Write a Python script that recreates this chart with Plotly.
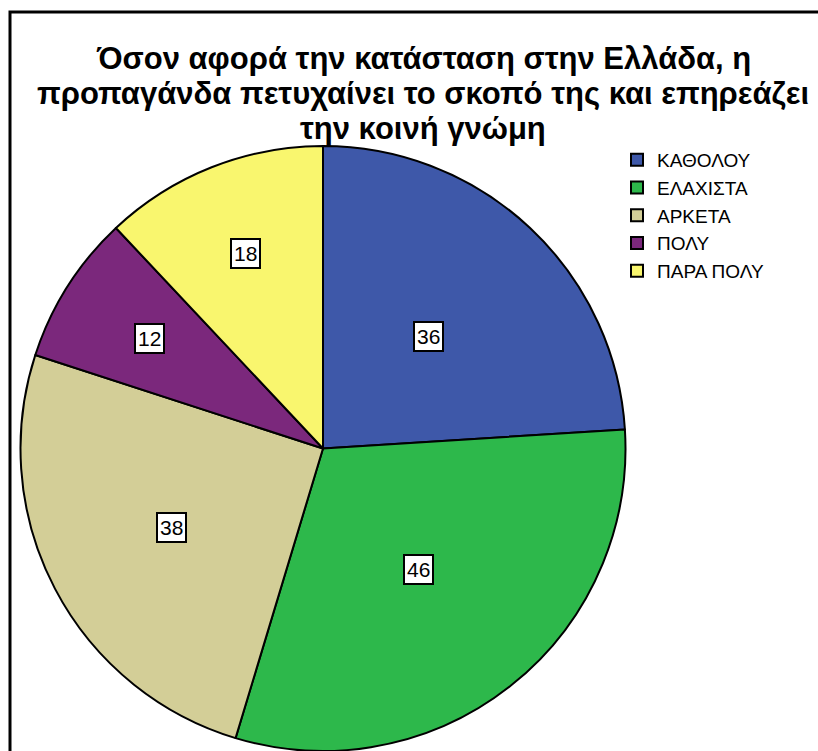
import math
import plotly.graph_objects as go

categories = ["ΚΑΘΟΛΟΥ", "ΕΛΑΧΙΣΤΑ", "ΑΡΚΕΤΑ", "ΠΟΛΥ", "ΠΑΡΑ ΠΟΛΥ"]
counts = [36, 46, 38, 12, 18]
colors = ["#3E58A9", "#2DB84B", "#D3CE97", "#7B287C", "#F9F66E"]
title_lines = [
    "Όσον αφορά την κατάσταση στην Ελλάδα, η",
    "προπαγάνδα πετυχαίνει το σκοπό της και επηρεάζει",
    "την κοινή γνώμη",
]
# radial placement of the value boxes (fraction of radius)
label_radius = [0.51, 0.51, 0.565, 0.68, 0.694]

W, H = 818, 751
cx, cy, R = 323, 448.5, 302.5  # pixel centre/radius of the pie

fig = go.Figure()
fig.add_trace(go.Pie(
    labels=categories,
    values=counts,
    sort=False,
    direction="clockwise",
    rotation=0,
    marker=dict(colors=colors, line=dict(color="black", width=2)),
    textinfo="none",
    hoverinfo="label+value",
    domain=dict(x=[(cx - R) / W, (cx + R) / W], y=[0, (H - cy + R) / H]),
))

total = sum(counts)
cum = 0
annotations = []
for v, rf in zip(counts, label_radius):
    mid = (cum + v / 2) / total * 2 * math.pi
    cum += v
    px = cx + rf * R * math.sin(mid)
    py = cy - rf * R * math.cos(mid)
    annotations.append(dict(
        x=px / W, y=1 - py / H, xref="paper", yref="paper",
        text=str(v), showarrow=False,
        font=dict(family="Liberation Sans, Arial", size=21, color="black"),
        bgcolor="white", bordercolor="black", borderwidth=2, borderpad=2,
        xanchor="center", yanchor="middle",
    ))

for i, line in enumerate(title_lines):
    annotations.append(dict(
        x=423 / W, y=1 - (58 + 35 * i) / H, xref="paper", yref="paper",
        text="<b>" + line + "</b>", showarrow=False,
        font=dict(family="Liberation Sans, Arial", size=31, color="black"),
        xanchor="center", yanchor="middle", align="center",
    ))

fig.update_layout(
    width=W, height=H,
    margin=dict(l=0, r=0, t=0, b=0),
    paper_bgcolor="white", plot_bgcolor="white",
    showlegend=True,
    legend=dict(
        x=617 / W, y=1 - 141 / H, xanchor="left", yanchor="top",
        font=dict(family="Liberation Sans, Arial", size=19, color="black"),
        bgcolor="rgba(0,0,0,0)", tracegroupgap=0,
    ),
    annotations=annotations,
    shapes=[dict(
        type="rect", xref="paper", yref="paper",
        x0=10 / W, x1=1.05, y0=-0.05, y1=1 - 12 / H,
        line=dict(color="black", width=3), fillcolor="rgba(0,0,0,0)",
    )],
)

fig.write_html("out.html")
